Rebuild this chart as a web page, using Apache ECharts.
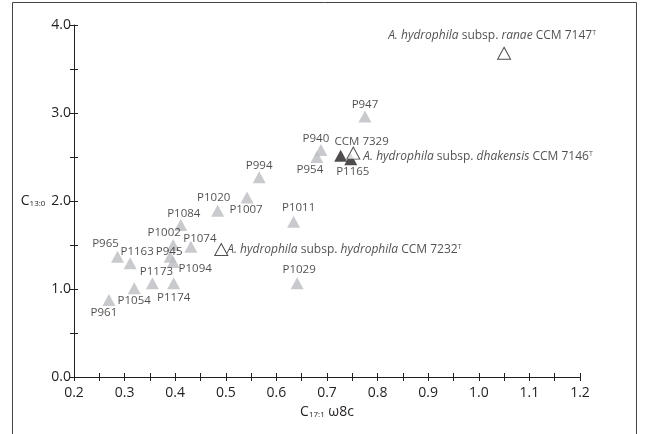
<!DOCTYPE html>
<html><head><meta charset="utf-8">
<script src="https://cdn.jsdelivr.net/npm/echarts@6/dist/echarts.min.js"></script>
<style>html,body{margin:0;padding:0;background:#fff}#c{width:648px;height:434px}</style>
</head><body><div id="c"></div>
<script>
// ---- data ----
var grayNames = ['P947','P940','P954','P994','P1020','P1007','P1011','P1084','P1002','P1074','P945','P1094','P965','P1163','P1173','P1174','P1054','P961','P1029'];
var grayX = [0.775,0.688,0.680,0.566,0.484,0.542,0.634,0.411,0.396,0.431,0.390,0.396,0.286,0.311,0.355,0.397,0.319,0.269,0.641];
var grayY = [2.96,2.58,2.50,2.27,1.89,2.04,1.765,1.727,1.50,1.48,1.367,1.307,1.367,1.292,1.065,1.065,1.008,0.875,1.065];
var blackNames = ['CCM 7329','P1165'];
var blackX = [0.727,0.747];
var blackY = [2.515,2.474];
var openNames = ['dhakensis','hydrophila','ranae'];
var openX = [0.752,0.491,1.050];
var openY = [2.544,1.448,3.678];
var openLabels = [
  '{i|A. hydrophila}{n| subsp. }{i|dhakensis}{n| CCM 7146}{s|T}',
  '{i|A. hydrophila}{n| subsp. }{i|hydrophila}{n| CCM 7232}{s|T}',
  '{i|A. hydrophila}{n| subsp. }{i|ranae}{n| CCM 7147}{s|T}'
];
var xTicks = ['0.2','0.3','0.4','0.5','0.6','0.7','0.8','0.9','1.0','1.1','1.2'];
var yTicks = ['0.0','1.0','2.0','3.0','4.0'];

// ---- layout (label offsets, not data) ----
var labelOffset = {
  'P947':[0,-12],'P940':[-5,-11],'P954':[-7,13],'P994':[0,-12],'P1020':[-4,-13],'P1007':[-1,12],
  'P1011':[5,-14],'P1084':[3,-11],'P1002':[-9,-12],'P1074':[9,-8],'P945':[-1,-5],'P1094':[22,7],
  'P965':[-12,-13],'P1163':[7,-12],'P1173':[4,-12],'P1174':[0,14],'P1054':[0,12],'P961':[-5,13],
  'P1029':[2,-14],'CCM 7329':[21,-14],'P1165':[2,12],
  'dhakensis':[10,3],'hydrophila':[6,0],'ranae':[-12,-18]
};
var openAlign = {'dhakensis':'left','hydrophila':'left','ranae':'center'};

var FONT = '"Open Sans", sans-serif';
var INK = '#231f20';
var rich = {
  i:{fontStyle:'italic',fontSize:12,color:INK,fontFamily:FONT},
  n:{fontSize:12,color:INK,fontFamily:FONT},
  s:{fontSize:7,color:INK,fontFamily:FONT,verticalAlign:'top'}
};

function mk(names,xs,ys,extra){
  return names.map(function(n,i){
    var d = {name:n,value:[xs[i],ys[i]],label:{offset:labelOffset[n]}};
    if(extra) extra(d,i);
    return d;
  });
}

var grayData = mk(grayNames,grayX,grayY);
var blackData = mk(blackNames,blackX,blackY);
var openData = mk(openNames,openX,openY,function(d,i){
  d.label.formatter = openLabels[i];
  d.label.align = openAlign[openNames[i]];
});

function xlab(v){var k=Math.round(v*100);return (k%10===0)?xTicks[Math.round((v-0.2)*10)]:'';}
function ylab(v){var k=Math.round(v*10);return (k%10===0)?yTicks[Math.round(v)]:'';}

var baseLabel = {show:true,position:'inside',formatter:'{b}',fontSize:11.5,color:INK,fontFamily:FONT};
var chart = echarts.init(document.getElementById('c'),null,{renderer:'canvas'});
chart.setOption({
  animation:false,
  backgroundColor:'#fff',
  grid:{left:74,right:68,top:25,bottom:57},
  graphic:[{type:'rect',shape:{x:12.5,y:2.5,width:624,height:445},style:{fill:'none',stroke:'#444',lineWidth:1},silent:true}],
  xAxis:[{
    type:'value',min:0.2,max:1.2,interval:0.05,
    axisLine:{lineStyle:{color:INK,width:1}},
    axisTick:{show:true,inside:false,length:4,lineStyle:{color:INK}},
    splitLine:{show:false},
    axisLabel:{formatter:xlab,fontSize:14,color:INK,fontFamily:FONT,margin:9,showMinLabel:true,showMaxLabel:true},
    name:'{c|C}{sub|17:1}{c| ω8c}',nameLocation:'middle',nameGap:27,
    nameTextStyle:{rich:{c:{fontSize:14,color:INK,fontFamily:FONT},sub:{fontSize:8,color:INK,fontFamily:FONT,verticalAlign:'bottom'}}}
  },{
    type:'value',min:0.2,max:1.2,interval:0.05,position:'bottom',
    axisLine:{show:false},axisLabel:{show:false},splitLine:{show:false},
    axisTick:{show:true,inside:true,length:4,lineStyle:{color:INK}}
  }],
  yAxis:[{
    type:'value',min:0,max:4,interval:0.5,
    axisLine:{lineStyle:{color:INK,width:1}},
    axisTick:{show:true,inside:false,length:4,lineStyle:{color:INK}},
    splitLine:{show:false},
    axisLabel:{formatter:ylab,fontSize:14,color:INK,fontFamily:FONT,margin:3},
    name:'{c|C}{sub|13:0}',nameLocation:'middle',nameGap:26,nameRotate:0,
    nameTextStyle:{rich:{c:{fontSize:14,color:INK,fontFamily:FONT},sub:{fontSize:8,color:INK,fontFamily:FONT,verticalAlign:'bottom'}}}
  },{
    type:'value',min:0,max:4,interval:0.5,position:'left',
    axisLine:{show:false},axisLabel:{show:false},splitLine:{show:false},
    axisTick:{show:true,inside:true,length:4,lineStyle:{color:INK}}
  }],
  series:[
    {type:'scatter',name:'gray',symbol:'triangle',symbolSize:[13,12],data:grayData,
     itemStyle:{color:'#bcbdc0'},label:baseLabel,z:2},
    {type:'scatter',name:'black',symbol:'triangle',symbolSize:[13,12],data:blackData,
     itemStyle:{color:INK},label:baseLabel,z:3},
    {type:'scatter',name:'open',symbol:'triangle',symbolSize:[13,12],data:openData,
     itemStyle:{color:'#fff',borderColor:INK,borderWidth:1},
     label:{show:true,position:'inside',fontSize:12,color:INK,fontFamily:FONT,rich:rich},z:4}
  ]
});
</script></body></html>
